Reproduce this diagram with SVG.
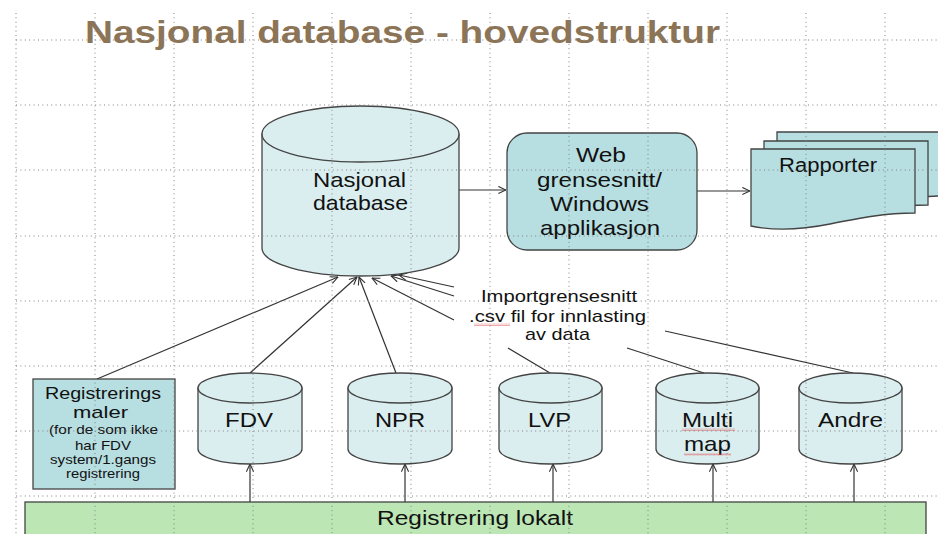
<svg xmlns="http://www.w3.org/2000/svg" width="938" height="534" viewBox="0 0 938 534">
<defs>
<style>
.t{font-family:"Liberation Sans",Arial,sans-serif;fill:#111;}
.title{font-family:"Liberation Sans",Arial,sans-serif;font-weight:bold;fill:#8c7457;font-size:31px;}
.cyl{fill:#daeef0;stroke:#444;stroke-width:1.3;}
.box{fill:#b7dee1;stroke:#444;stroke-width:1.3;}
.green{fill:#bce7b4;stroke:#444;stroke-width:1.3;}
.c{fill:none;stroke:#333;stroke-width:1.2;}
.grid line{stroke:#808080;stroke-width:1;stroke-dasharray:1 3.4;}
.sq{fill:url(#squig);}
</style>
<marker id="arr" viewBox="0 0 10 10" refX="9.5" refY="5" markerWidth="9" markerHeight="9" markerUnits="userSpaceOnUse" orient="auto">
<path d="M1,1 L9.5,5 L1,9" fill="none" stroke="#333" stroke-width="1.2"/>
</marker>
<pattern id="squig" width="4" height="3" patternUnits="userSpaceOnUse">
<path d="M0,2.5 L1,0.5 L2,2.5 L3,0.5 L4,2.5" fill="none" stroke="#e05050" stroke-width="0.6" stroke-opacity="0.8"/>
</pattern>
</defs>
<rect width="938" height="534" fill="#fff"/>

<text class="title" x="85" y="43" textLength="635" lengthAdjust="spacingAndGlyphs">Nasjonal database - hovedstruktur</text>

<g id="connectors">
<line class="c" x1="459" y1="190" x2="506" y2="190" marker-end="url(#arr)"/>
<line class="c" x1="697" y1="191" x2="750" y2="191" marker-end="url(#arr)"/>
<line class="c" x1="97" y1="379" x2="338" y2="277" marker-end="url(#arr)"/>
<line class="c" x1="250" y1="373" x2="357" y2="277" marker-end="url(#arr)"/>
<line class="c" x1="396" y1="373" x2="359" y2="277" marker-end="url(#arr)"/>
<line class="c" x1="454" y1="287" x2="399" y2="275" marker-end="url(#arr)"/>
<line class="c" x1="454" y1="296" x2="391" y2="276" marker-end="url(#arr)"/>
<line class="c" x1="454" y1="320" x2="372" y2="278" marker-end="url(#arr)"/>
<line class="c" x1="508" y1="348" x2="550" y2="373"/>
<line class="c" x1="627" y1="348" x2="704" y2="373"/>
<line class="c" x1="665" y1="331" x2="853" y2="373"/>
<line class="c" x1="250" y1="502" x2="250" y2="464" marker-end="url(#arr)"/>
<line class="c" x1="405" y1="502" x2="405" y2="464" marker-end="url(#arr)"/>
<line class="c" x1="553" y1="502" x2="553" y2="464" marker-end="url(#arr)"/>
<line class="c" x1="713" y1="502" x2="713" y2="464" marker-end="url(#arr)"/>
<line class="c" x1="854" y1="502" x2="854" y2="464" marker-end="url(#arr)"/>
</g>

<g id="nasjonal-database">
<path class="cyl" d="M262,134 V248 A98.5,28 0 0 0 459,248 V134 Z"/>
<ellipse class="cyl" cx="360.5" cy="134" rx="98.5" ry="28"/>
<text class="t" x="313" y="187" font-size="21" textLength="93" lengthAdjust="spacingAndGlyphs">Nasjonal</text>
<text class="t" x="313" y="210" font-size="21" textLength="95" lengthAdjust="spacingAndGlyphs">database</text>
</g>

<g id="web">
<rect class="box" x="507" y="133" width="190" height="117" rx="20" ry="20"/>
<text class="t" x="576" y="162" font-size="21" textLength="50" lengthAdjust="spacingAndGlyphs">Web</text>
<text class="t" x="537" y="187" font-size="21" textLength="125" lengthAdjust="spacingAndGlyphs">grensesnitt/</text>
<text class="t" x="550" y="211" font-size="21" textLength="99" lengthAdjust="spacingAndGlyphs">Windows</text>
<text class="t" x="540" y="235" font-size="21" textLength="120" lengthAdjust="spacingAndGlyphs">applikasjon</text>
</g>

<g id="rapporter">
<path class="box" d="M777,132 H941 V196 C911,196 886,201 856,207 C826,213 801,214 777,209 Z"/>
<path class="box" d="M764,141 H928 V205 C898,205 873,210 843,216 C813,222 788,223 764,218 Z"/>
<path class="box" d="M751,149 H915 V213 C885,213 860,218 830,224 C800,230 775,231 751,226 Z"/>
<text class="t" x="779" y="172" font-size="20" textLength="98" lengthAdjust="spacingAndGlyphs">Rapporter</text>
</g>

<g id="importgrensesnitt">
<text class="t" x="481" y="302" font-size="17" textLength="156" lengthAdjust="spacingAndGlyphs">Importgrensesnitt</text>
<text class="t" x="469" y="322" font-size="17" textLength="177" lengthAdjust="spacingAndGlyphs">.csv fil for innlasting</text>
<rect class="sq" x="474" y="323" width="36" height="3"/>
<text class="t" x="525" y="340" font-size="17" textLength="65" lengthAdjust="spacingAndGlyphs">av data</text>
</g>

<g id="registrerings-maler">
<rect class="box" x="33" y="379" width="142" height="110"/>
<text class="t" x="45" y="399" font-size="17" textLength="116" lengthAdjust="spacingAndGlyphs">Registrerings</text>
<text class="t" x="73" y="418" font-size="17" textLength="55" lengthAdjust="spacingAndGlyphs">maler</text>
<text class="t" x="49" y="434" font-size="13" textLength="109" lengthAdjust="spacingAndGlyphs">(for de som ikke</text>
<text class="t" x="75" y="450" font-size="13" textLength="56" lengthAdjust="spacingAndGlyphs">har FDV</text>
<text class="t" x="50" y="464" font-size="13" textLength="106" lengthAdjust="spacingAndGlyphs">system/1.gangs</text>
<text class="t" x="66" y="478" font-size="13" textLength="74" lengthAdjust="spacingAndGlyphs">registrering</text>
</g>

<g id="fdv">
<path class="cyl" d="M198,388 V449 A52,15 0 0 0 302,449 V388 Z"/>
<ellipse class="cyl" cx="250" cy="388" rx="52" ry="15"/>
<text class="t" x="225" y="427" font-size="21" textLength="48" lengthAdjust="spacingAndGlyphs">FDV</text>
</g>
<g id="npr">
<path class="cyl" d="M348,388 V449 A52,15 0 0 0 452,449 V388 Z"/>
<ellipse class="cyl" cx="400" cy="388" rx="52" ry="15"/>
<text class="t" x="375" y="427" font-size="21" textLength="50" lengthAdjust="spacingAndGlyphs">NPR</text>
</g>
<g id="lvp">
<path class="cyl" d="M499,388 V449 A51.5,15 0 0 0 602,449 V388 Z"/>
<ellipse class="cyl" cx="550.5" cy="388" rx="51.5" ry="15"/>
<text class="t" x="528" y="427" font-size="21" textLength="43" lengthAdjust="spacingAndGlyphs">LVP</text>
</g>
<g id="multimap">
<path class="cyl" d="M656,388 V449 A51.5,15 0 0 0 759,449 V388 Z"/>
<ellipse class="cyl" cx="707.5" cy="388" rx="51.5" ry="15"/>
<text class="t" x="682" y="427" font-size="21" textLength="51" lengthAdjust="spacingAndGlyphs">Multi</text>
<rect class="sq" x="682" y="428" width="53" height="3"/>
<text class="t" x="684" y="451" font-size="21" textLength="47" lengthAdjust="spacingAndGlyphs">map</text>
<rect class="sq" x="684" y="453" width="47" height="3"/>
</g>
<g id="andre">
<path class="cyl" d="M799,388 V449 A51.5,15 0 0 0 902,449 V388 Z"/>
<ellipse class="cyl" cx="850.5" cy="388" rx="51.5" ry="15"/>
<text class="t" x="818" y="427" font-size="21" textLength="65" lengthAdjust="spacingAndGlyphs">Andre</text>
</g>

<g id="registrering-lokalt">
<rect class="green" x="25" y="502" width="901" height="40"/>
<text class="t" x="377" y="525" font-size="20" textLength="196" lengthAdjust="spacingAndGlyphs">Registrering lokalt</text>
</g>

<g class="grid">
<line x1="16" y1="13" x2="16" y2="534"/>
<line x1="95" y1="13" x2="95" y2="534"/>
<line x1="174" y1="13" x2="174" y2="534"/>
<line x1="253" y1="13" x2="253" y2="534"/>
<line x1="332" y1="13" x2="332" y2="534"/>
<line x1="411" y1="13" x2="411" y2="534"/>
<line x1="490" y1="13" x2="490" y2="534"/>
<line x1="569" y1="13" x2="569" y2="534"/>
<line x1="648" y1="13" x2="648" y2="534"/>
<line x1="727" y1="13" x2="727" y2="534"/>
<line x1="806" y1="13" x2="806" y2="534"/>
<line x1="885" y1="13" x2="885" y2="534"/>
<line x1="16" y1="40" x2="938" y2="40"/>
<line x1="16" y1="105" x2="938" y2="105"/>
<line x1="16" y1="170" x2="938" y2="170"/>
<line x1="16" y1="236" x2="938" y2="236"/>
<line x1="16" y1="301" x2="938" y2="301"/>
<line x1="16" y1="366" x2="938" y2="366"/>
<line x1="16" y1="431" x2="938" y2="431"/>
<line x1="16" y1="496" x2="938" y2="496"/>
</g>
</svg>
